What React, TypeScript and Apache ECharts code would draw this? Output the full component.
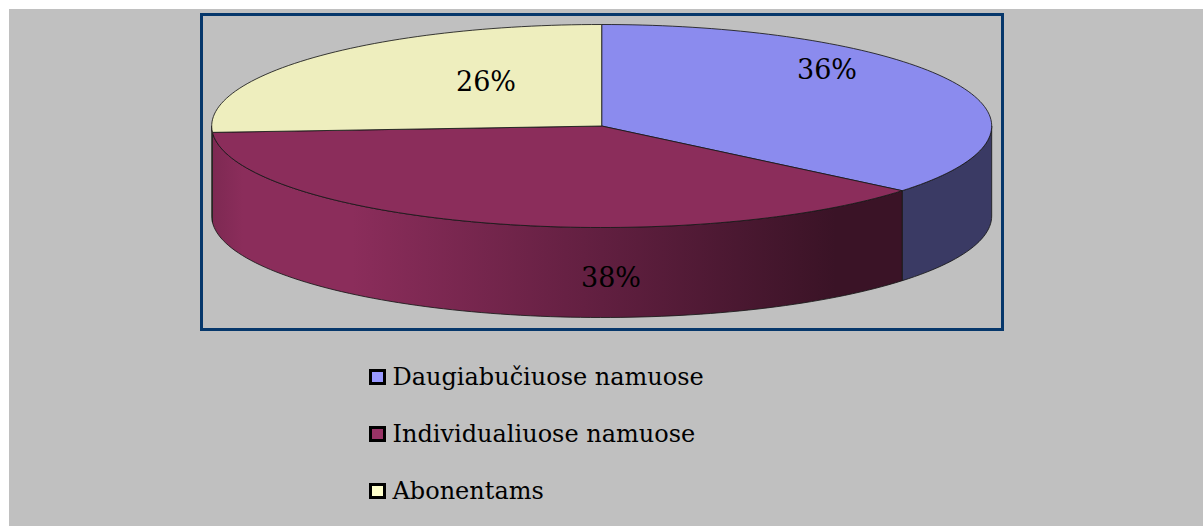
import React, { useEffect, useRef } from "react";
import * as echarts from "echarts";

const CATEGORIES = ["Daugiabučiuose namuose", "Individualiuose namuose", "Abonentams"];
const VALUES = [36, 38, 26];
const TOP_COLORS = ["#8b8bee", "#8b2d5b", "#eeeebe"];
const LEGEND_COLORS = ["#9999ff", "#993366", "#ffffcc"];

// layout (chart-pixel coordinates)
const CX = 592.7;
const CY = 117;
const RX = 390;
const RY = 101.5;
const DEPTH = 90;
const LABEL_ANCHORS = [
  [818, 60],
  [602, 268],
  [477, 72],
];
const FONT = "'DejaVu Serif', Georgia, serif";

function shade(hex: string, f: number) {
  const n = parseInt(hex.slice(1), 16);
  const r = Math.round(((n >> 16) & 255) * f);
  const g = Math.round(((n >> 8) & 255) * f);
  const b = Math.round((n & 255) * f);
  return `rgb(${r},${g},${b})`;
}

function pt(theta: number, dy: number) {
  return [CX + RX * Math.sin(theta), CY - RY * Math.cos(theta) + dy];
}

function arcPoints(a: number, b: number, dy: number) {
  const pts: number[][] = [];
  const n = Math.max(2, Math.ceil(((b - a) / (2 * Math.PI)) * 240));
  for (let k = 0; k <= n; k++) pts.push(pt(a + ((b - a) * k) / n, dy));
  return pts;
}

const TOTAL = VALUES.reduce((s, v) => s + v, 0);

function makeRender(i: number) {
  return (params: any, api: any) => {
    const value = api.value(0);
    const before = VALUES.slice(0, i).reduce((s, v) => s + v, 0);
    const a0 = (before / TOTAL) * Math.PI * 2;
    const a1 = ((before + value) / TOTAL) * Math.PI * 2;
    const children: any[] = [];
    const s = Math.max(a0, Math.PI / 2);
    const e = Math.min(a1, (Math.PI * 3) / 2);
    const stroke = "rgba(25,25,25,0.85)";
    if (e > s) {
      const topArc = arcPoints(s, e, 0);
      const botArc = arcPoints(s, e, DEPTH).reverse();
      const base = TOP_COLORS[i];
      children.push({
        type: "polygon",
        shape: { points: topArc.concat(botArc) },
        style: {
          fill: new echarts.graphic.LinearGradient(
            CX - RX,
            0,
            CX + RX,
            0,
            [
              { offset: 0, color: shade(base, 0.9) },
              { offset: 0.04, color: shade(base, 1) },
              { offset: 0.18, color: shade(base, 1) },
              { offset: 0.5, color: shade(base, 0.7) },
              { offset: 0.8, color: shade(base, 0.42) },
              { offset: 1, color: shade(base, 0.42) },
            ],
            true
          ),
          stroke,
          lineWidth: 1,
        },
      });
    }
    const topPts = [[CX, CY]].concat(arcPoints(a0, a1, 0));
    children.push({
      type: "polygon",
      shape: { points: topPts },
      style: { fill: TOP_COLORS[i], stroke, lineWidth: 1 },
    });
    const pct = Math.round((value / TOTAL) * 100);
    children.push({
      type: "text",
      x: LABEL_ANCHORS[i][0],
      y: LABEL_ANCHORS[i][1],
      style: {
        text: pct + "%",
        fill: "#000",
        font: `27px ${FONT}`,
        align: "center",
        verticalAlign: "middle",
      },
      z2: 10,
    });
    return { type: "group", children };
  };
}

export default function App() {
  const ref = useRef<HTMLDivElement>(null);
  useEffect(() => {
    if (!ref.current) return;
    const chart = echarts.init(ref.current, undefined, { renderer: "svg" });
    chart.setOption({
      animation: false,
      backgroundColor: "#c0c0c0",
      graphic: [
        {
          type: "rect",
          silent: true,
          shape: { x: 192.5, y: 5.5, width: 801, height: 315 },
          style: { fill: "none", stroke: "#06376b", lineWidth: 3 },
        },
      ],
      legend: {
        orient: "vertical",
        left: 360,
        top: 356,
        padding: 0,
        itemWidth: 14,
        itemHeight: 13,
        itemGap: 33,
        icon: "rect",
        selectedMode: false,
        itemStyle: { borderColor: "#000", borderWidth: 3 },
        textStyle: { fontSize: 24, fontFamily: FONT, color: "#000", padding: [0, 0, 0, 3] },
        data: CATEGORIES,
      },
      series: CATEGORIES.map((name, i) => ({
        type: "custom",
        name,
        coordinateSystem: "none",
        silent: true,
        itemStyle: { color: LEGEND_COLORS[i] },
        data: [[VALUES[i]]],
        renderItem: makeRender(i),
      })),
    });
    return () => chart.dispose();
  }, []);
  return (
    <div
      ref={ref}
      style={{ position: "absolute", left: 9, top: 9, width: 1194, height: 517 }}
    />
  );
}
